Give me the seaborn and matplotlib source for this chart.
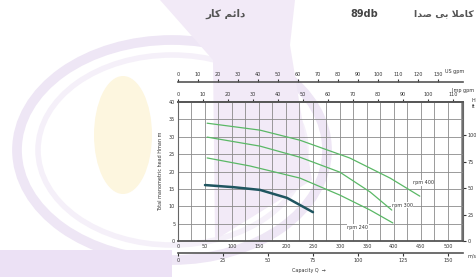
import numpy as np
import pandas as pd
import matplotlib
matplotlib.use('Agg')
import matplotlib.pyplot as plt
import seaborn as sns
from matplotlib.ticker import MultipleLocator
from matplotlib.patches import Ellipse, Polygon, Rectangle

sns.set_theme(style='white')
plt.rcParams['font.family'] = ['DejaVu Sans']

# pump curves (Q in m3/h, H in m)
q_low = [50, 102, 152, 202, 250]
h_low = [16.1, 15.5, 14.7, 12.4, 8.3]
q_400 = [54, 152, 226, 318, 393, 448]
h_400 = [33.9, 31.9, 29.0, 23.9, 18.1, 12.9]
q_300 = [54, 152, 226, 300, 356, 396]
h_300 = [29.9, 27.3, 24.1, 19.8, 14.1, 8.9]
q_240 = [54, 133, 226, 300, 356, 398]
h_240 = [23.9, 21.6, 18.1, 13.2, 8.9, 5.2]

curve_labels = ['rpm 400', 'rpm 300', 'rpm 240']
label_q = [454, 415, 333]
label_h = [16.7, 10.3, 4.0]

q_ticks = [0, 50, 100, 150, 200, 250, 300, 350, 400, 450, 500]
h_ticks = [0, 5, 10, 15, 20, 25, 30, 35, 40]
ft_ticks = [0, 25, 50, 75, 100]
imp_ticks = [0, 10, 20, 30, 40, 50, 60, 70, 80, 90, 100, 110]
us_ticks = [0, 10, 20, 30, 40, 50, 60, 70, 80, 90, 100, 110, 120, 130]
ls_ticks = [0, 25, 50, 75, 100, 125, 150]

df = pd.concat([
    pd.DataFrame({'Q': q_low, 'H': h_low, 'curve': 'low'}),
    pd.DataFrame({'Q': q_400, 'H': h_400, 'curve': 'rpm 400'}),
    pd.DataFrame({'Q': q_300, 'H': h_300, 'curve': 'rpm 300'}),
    pd.DataFrame({'Q': q_240, 'H': h_240, 'curve': 'rpm 240'}),
])

W, H = 477, 277
fig = plt.figure(figsize=(W / 100, H / 100), dpi=100)

# faint watermark logo in a background layer (pixel coords, y down)
bg = fig.add_axes([0, 0, 1, 1], zorder=-1)
bg.set_xlim(0, W)
bg.set_ylim(H, 0)
bg.axis('off')
bg.add_patch(Ellipse((172, 150), 310, 220, fill=False, ec='#eee6f5', lw=7))
bg.add_patch(Ellipse((172, 150), 268, 190, fill=False, ec='#f5f0f9', lw=4))
bg.add_patch(Ellipse((123, 135), 58, 118, fc='#fdf6df', ec='none'))
bg.add_patch(Polygon([(160, 0), (295, 0), (290, 45), (312, 180), (215, 240), (213, 60)],
                     closed=True, fc='#f2eaf7', ec='none'))
bg.add_patch(Rectangle((0, 250), 172, 27, fc='#ece1f5', ec='none'))

# text at the top
fig.text(246 / W, 1 - 14 / H, '\uFEAD\uFE8E\uFB90 \uFEE2\uFE8B\uFE8D\uFEA9', ha='right', va='center',
         fontsize=7.5, color='#555555', fontweight='bold')
fig.text(350 / W, 1 - 14 / H, '89db', ha='left', va='center', fontsize=7,
         color='#444444', fontweight='bold')
fig.text(474 / W, 1 - 14 / H, '\uFE8D\uFEAA\uFEBB \uFBFD\uFE91 \uFEFC\uFEE3\uFE8E\uFB90', ha='right',
         va='center', fontsize=6.8, color='#555555', fontweight='bold')

ax = fig.add_axes([178 / W, 1 - 241 / H, (463 - 178) / W, (241 - 102) / H], zorder=1)
ax.patch.set_alpha(0)

sns.lineplot(data=df, x='Q', y='H', hue='curve', ax=ax, legend=False,
             palette={'low': '#1f5560', 'rpm 400': '#5ab866', 'rpm 300': '#5ab866', 'rpm 240': '#5ab866'},
             size='curve', sizes={'low': 1.8, 'rpm 400': 0.9, 'rpm 300': 0.9, 'rpm 240': 0.9})

for lab, lq, lh in zip(curve_labels, label_q, label_h):
    ax.text(lq, lh, lab, fontsize=3.5, color='#333333', ha='center', va='center',
            bbox=dict(fc='white', ec='none', pad=0.3))

ax.set_xlim(0, 528)
ax.set_ylim(0, 40)
ax.set_xticks(q_ticks)
ax.xaxis.set_minor_locator(MultipleLocator(25))
ax.set_yticks(h_ticks)
ax.grid(which='both', axis='x', color='#8a8a8a', lw=0.6)
ax.grid(which='major', axis='y', color='#8a8a8a', lw=0.6)
ax.tick_params(labelsize=3.5, length=0, pad=2, colors='#333333')
for s in ['bottom', 'top']:
    ax.spines[s].set_color('#555555')
    ax.spines[s].set_linewidth(1.3)
for s in ['left', 'right']:
    ax.spines[s].set_color('#666666')
    ax.spines[s].set_linewidth(0.8)
ax.set_xlabel('')
ax.set_ylabel('Total manometric head Hman m', fontsize=3.5, labelpad=4, color='#333333')
ax.text(0.46, -0.21, 'Capacity Q  \u2192', transform=ax.transAxes, fontsize=3.5,
        ha='center', va='center', color='#333333')

# extra unit scales
imp = ax.secondary_xaxis('top', functions=(lambda q: q * 0.216, lambda v: v / 0.216))
imp.set_xticks(imp_ticks)
us = ax.secondary_xaxis(1.144, functions=(lambda q: q * 0.27, lambda v: v / 0.27))
us.set_xticks(us_ticks)
ls = ax.secondary_xaxis(-0.086, functions=(lambda q: q * 0.3, lambda v: v / 0.3))
ls.set_xticks(ls_ticks)
ft = ax.secondary_yaxis('right', functions=(lambda m: m * 3.281, lambda f: f / 3.281))
ft.set_yticks(ft_ticks)
for sec in [imp, us, ls, ft]:
    sec.tick_params(labelsize=3.5, length=2, width=0.8, pad=1.5, colors='#333333')
    for s in sec.spines.values():
        s.set_color('#555555')
        s.set_linewidth(1.2)
ax.text(1.0, 1.07, 'Imp gpm', transform=ax.transAxes, fontsize=3.5, ha='center', color='#333333')
ax.text(0.97, 1.21, 'US gpm', transform=ax.transAxes, fontsize=3.5, ha='center', color='#333333')
ax.text(1.03, 0.99, 'H\nft', transform=ax.transAxes, fontsize=3.5, ha='left', va='center', color='#333333')
ax.text(1.03, -0.12, 'm/s', transform=ax.transAxes, fontsize=3.5, ha='center', color='#333333')

fig.savefig('out.png', dpi=100)
